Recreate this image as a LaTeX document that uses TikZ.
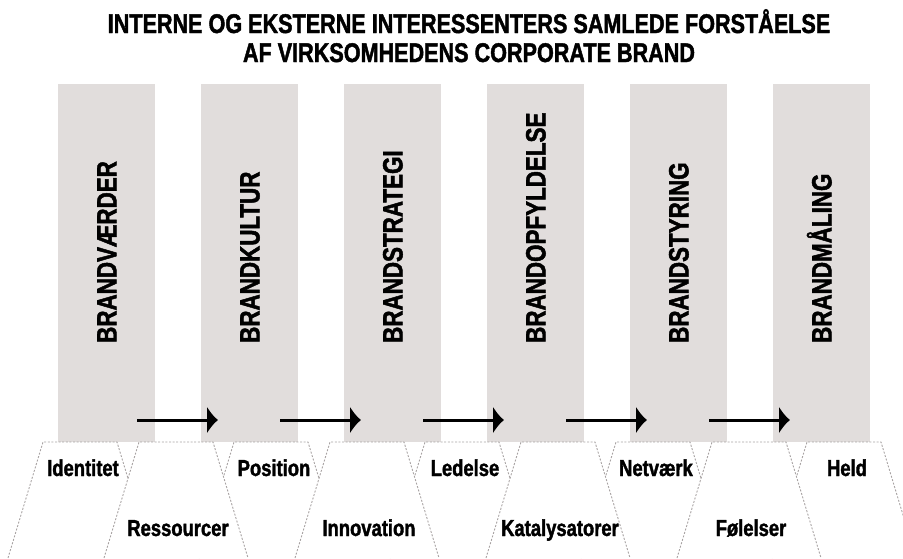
\documentclass[tikz,border=0pt]{standalone}
\usepackage{fontspec}
\newfontfamily\condfont[FakeStretch=0.8,FakeBold=1.6]{Liberation Sans}
\usetikzlibrary{positioning,calc,arrows.meta}
\definecolor{colgray}{RGB}{225,221,220}
\definecolor{dashgray}{RGB}{168,163,163}

\begin{document}
\begin{tikzpicture}[
      x=1pt, y=-1pt,
      >={Latex[length=11pt,width=28pt]}
    ]

    \tikzstyle{column} = [rectangle, fill=colgray, minimum width=97pt, minimum height=358pt, inner sep=0pt, outer sep=0pt]

    \tikzstyle{collabel} = [rotate=90, anchor=west, inner sep=0pt, text height=20pt, text depth=0pt, font=\condfont\bfseries\fontsize{28}{28}\selectfont]

    \tikzstyle{title} = [anchor=base, inner sep=0pt, font=\condfont\bfseries\fontsize{27}{29}\selectfont]

    \tikzstyle{word} = [inner sep=0pt, text height=16pt, text depth=4pt, font=\condfont\bfseries\fontsize{23}{23}\selectfont]

    \tikzstyle{trap} = [draw=dashgray, line width=0.9pt, dash pattern=on 2pt off 1.6pt]

    \tikzstyle{arrow} = [line width=3pt, ->]

    \useasboundingbox (0,0) rectangle (903,558);

    \node [title] (title1) at (469,33) {INTERNE OG EKSTERNE INTERESSENTERS SAMLEDE FORSTÅELSE};
    \node [title] (title2) [below=29pt of title1.base, anchor=base] {AF VIRKSOMHEDENS CORPORATE BRAND};

    \node [column] (c1) at (106.5,263) {};
    \node [column] (c2) [node distance=46pt, right=of c1] {};
    \node [column] (c3) [node distance=46pt, right=of c2] {};
    \node [column] (c4) [node distance=46pt, right=of c3] {};
    \node [column] (c5) [node distance=46pt, right=of c4] {};
    \node [column] (c6) [node distance=46pt, right=of c5] {};

    \node [collabel] (t1) at ($(c1.south)+(0,-99)$) {BRANDVÆRDER};
    \node [collabel] (t2) at ($(c2.south)+(0,-99)$) {BRANDKULTUR};
    \node [collabel] (t3) at ($(c3.south)+(0,-99)$) {BRANDSTRATEGI};
    \node [collabel] (t4) at ($(c4.south)+(0,-99)$) {BRANDOPFYLDELSE};
    \node [collabel] (t5) at ($(c5.south)+(0,-99)$) {BRANDSTYRING};
    \node [collabel] (t6) at ($(c6.south)+(0,-99)$) {BRANDMÅLING};

    \draw [arrow] ($(c1.south east)+(-18,-22)$) -- ($(c2.south west)+(17,-22)$);
    \draw [arrow] ($(c2.south east)+(-18,-22)$) -- ($(c3.south west)+(17,-22)$);
    \draw [arrow] ($(c3.south east)+(-18,-22)$) -- ($(c4.south west)+(17,-22)$);
    \draw [arrow] ($(c4.south east)+(-18,-22)$) -- ($(c5.south west)+(17,-22)$);
    \draw [arrow] ($(c5.south east)+(-18,-22)$) -- ($(c6.south west)+(17,-22)$);

    \foreach \x/\txt [count=\i] in {43/Identitet, 234/Position, 425/Ledelse, 616/Netværk, 807/Held}
      {
      \draw [trap] (\x-35,558) -- (\x,442) -- (\x+74,442) -- (\x+109,558);
      \node [word] (upper\i) at (\x+40,470) {\txt};
      }

    \foreach \x/\txt [count=\i] in {139/Ressourcer, 330/Innovation, 521/Katalysatorer, 712/Følelser}
      {
      \draw [trap, fill=white] (\x-35,558) -- (\x,442) -- (\x+74,442) -- (\x+109,558);
      \node [word] (lower\i) at (\x+39,530) {\txt};
      }

\end{tikzpicture}
\end{document}
